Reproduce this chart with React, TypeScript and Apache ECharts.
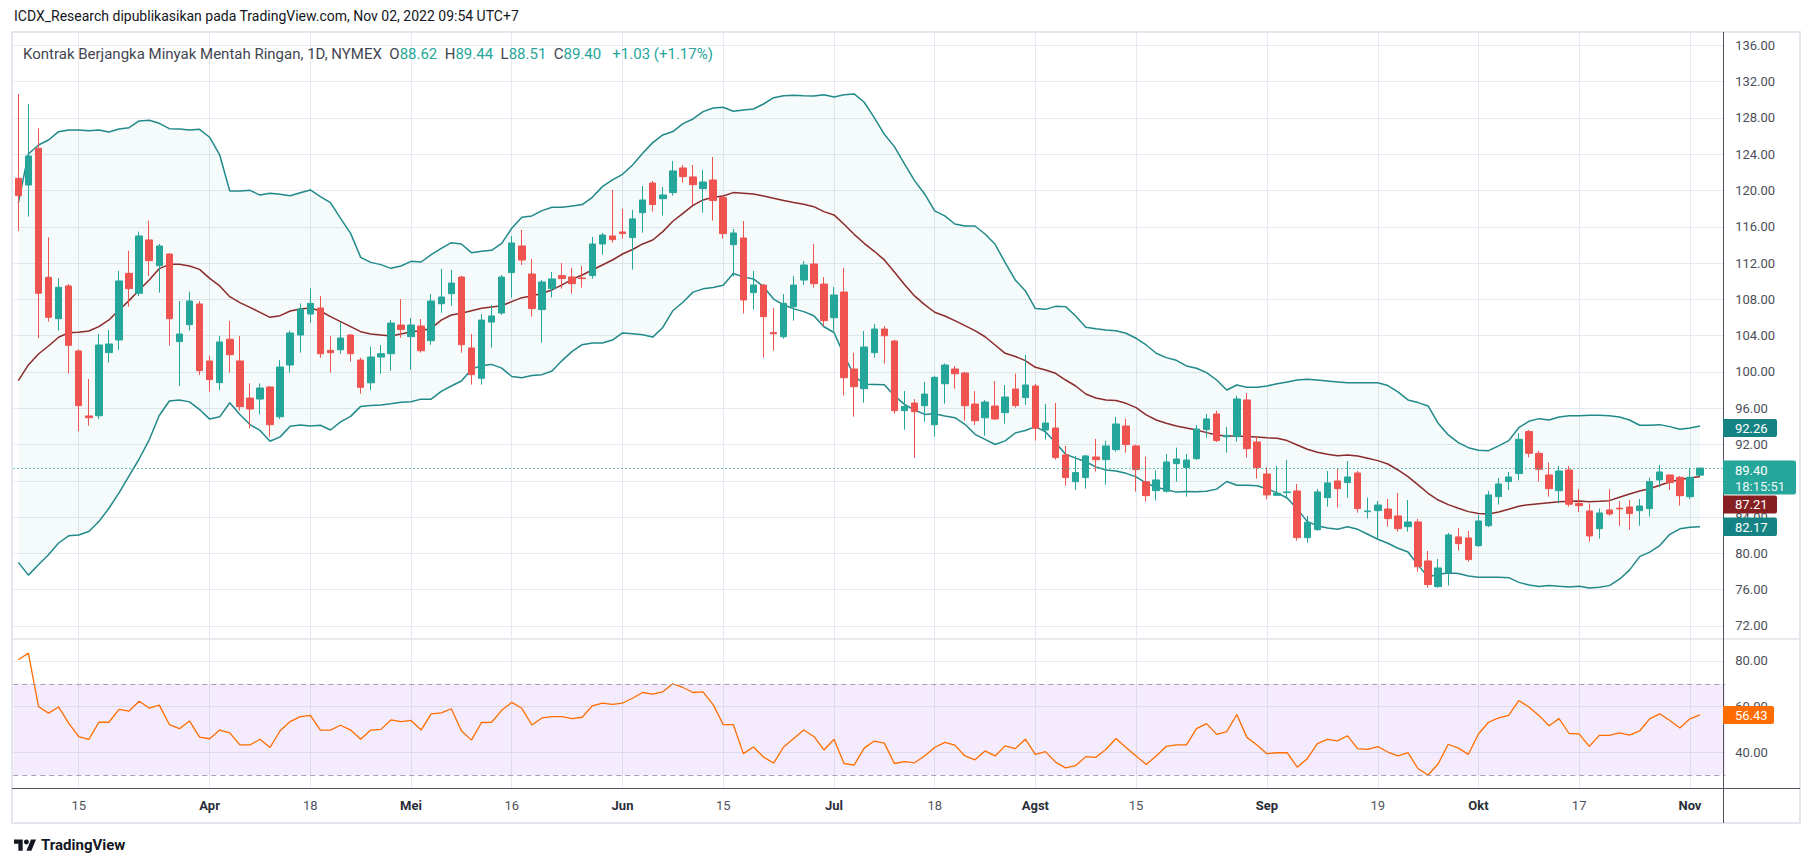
import React, { useEffect, useRef } from 'react';
import * as echarts from 'echarts';

// ---------- calendar / categories ----------
const FIRST_DAY = '2022-03-07';
const HOLIDAYS = ['2022-04-15', '2022-05-30', '2022-06-20', '2022-07-04', '2022-09-05'];
const CATEGORY_COUNT = 170; // 168 sessions + 2 empty future sessions on the right

const TICK_INDEX = [6, 19, 29, 39, 49, 60, 70, 81, 91, 101, 111, 124, 135, 145, 155, 166];
const TICK_TEXT = ['15', 'Apr', '18', 'Mei', '16', 'Jun', '15', 'Jul', '18', 'Agst', '15', 'Sep', '19', 'Okt', '17', 'Nov'];
const MONTH_TICKS = ['Apr', 'Mei', 'Jun', 'Jul', 'Agst', 'Sep', 'Okt', 'Nov'];

// ---------- price data (OHLC) ----------
const OPEN = [121.35,120.61,124.65,110.43,105.87,109.48,102.31,95.15,95.17,102.13,
103.52,110.87,108.67,114.55,111.72,113.00,103.34,105.21,107.49,101.21,
98.82,103.60,101.21,97.12,97.01,98.34,95.06,100.76,104.07,106.39,
107.05,102.38,102.45,104.07,101.31,98.80,101.64,102.01,105.17,103.89,
105.06,103.45,107.52,108.63,110.46,102.64,99.30,105.50,106.50,110.95,
113.89,110.80,106.87,109.18,110.62,110.47,110.36,110.62,114.11,114.99,
115.43,114.81,117.56,120.83,119.10,119.77,122.49,121.50,120.21,121.16,
119.22,114.03,114.77,108.74,109.58,104.35,103.88,107.19,110.13,111.90,
109.69,105.98,108.81,100.32,98.15,102.12,104.73,103.41,95.73,96.57,
96.28,94.18,98.70,100.32,99.88,96.46,94.95,96.24,95.51,98.12,
97.17,98.45,93.60,93.82,90.85,87.90,88.35,90.62,90.33,91.43,
94.04,91.84,87.90,86.91,86.84,89.89,89.45,90.44,93.64,95.37,
92.85,92.87,96.91,92.28,88.75,86.40,86.70,86.88,81.73,82.61,
86.14,87.98,87.80,88.86,84.60,84.71,84.89,84.12,82.94,83.46,
79.16,76.33,77.87,81.81,81.70,80.85,83.05,86.25,87.91,88.79,
93.42,91.03,88.64,86.91,89.19,85.52,84.67,82.72,84.78,84.98,
85.11,84.71,84.93,88.09,88.64,88.38,86.25,88.62];

const HIGH = [130.64,129.54,126.86,114.84,110.32,109.70,102.49,99.22,104.18,104.62,
111.13,113.37,115.47,116.68,114.11,113.10,107.82,108.85,107.82,101.80,
103.96,105.62,103.96,98.74,98.74,98.45,101.31,104.55,107.56,109.22,
108.37,103.96,105.43,104.18,101.57,102.78,102.97,105.72,108.04,105.94,
105.83,108.59,111.35,111.24,110.60,104.18,106.39,107.38,110.69,114.99,
115.65,112.45,110.14,111.02,112.01,111.46,111.68,114.88,115.32,120.06,
117.97,117.86,120.50,121.05,120.39,123.26,122.82,122.82,122.27,123.70,
119.51,115.76,116.64,111.13,109.70,107.05,108.59,110.57,112.23,114.10,
110.46,109.36,111.46,102.12,104.51,105.28,105.06,103.52,97.89,97.01,
98.92,99.58,100.94,100.65,100.03,97.89,96.90,99.00,98.56,99.81,
101.87,98.67,96.47,96.58,91.84,90.74,90.85,92.61,92.43,95.04,
94.82,91.99,90.66,89.12,90.96,91.65,90.96,94.15,95.37,95.73,
93.93,97.39,97.68,92.87,89.49,89.63,90.29,87.65,84.12,87.10,
89.08,89.30,90.18,89.08,86.14,85.77,85.99,86.66,85.88,83.79,
80.26,79.38,82.25,82.80,82.47,84.23,86.88,88.31,88.97,93.23,
93.60,91.29,90.00,89.63,89.63,87.06,85.48,84.93,87.06,85.77,
85.88,85.99,88.35,89.74,88.70,88.53,89.45,89.44];

const LOW = [115.54,117.12,103.71,105.54,104.55,99.85,93.48,94.07,94.81,101.02,
102.42,107.20,108.37,110.58,108.74,102.90,98.45,104.55,99.66,97.82,
98.00,99.92,95.73,93.78,95.32,92.86,94.81,99.92,102.12,105.43,
101.57,99.92,102.01,101.13,97.60,98.00,99.81,100.14,103.77,100.25,
102.12,103.00,106.53,107.30,102.12,98.60,98.60,102.67,106.31,108.19,
111.79,106.10,103.23,108.19,109.18,108.63,109.29,110.29,112.93,114.26,
114.70,111.28,115.36,117.67,117.23,119.44,120.87,118.41,117.56,116.68,
114.70,110.51,106.43,106.87,101.57,102.34,103.66,105.65,109.58,109.29,
105.06,104.55,97.38,95.06,96.61,101.57,100.91,95.40,93.63,90.54,
94.51,92.86,96.50,98.15,94.62,94.15,92.97,94.73,94.29,96.06,
96.36,92.43,92.54,90.33,87.46,87.02,87.13,89.01,87.57,91.21,
91.10,86.80,85.70,85.81,86.70,87.90,86.25,90.30,92.76,92.28,
91.10,92.32,90.55,88.24,85.96,86.30,86.00,81.40,81.18,82.50,
85.15,85.04,86.14,84.49,83.83,81.62,82.95,82.39,82.39,77.98,
76.22,76.20,76.44,80.30,79.09,80.70,82.90,85.37,86.99,88.05,
90.59,87.91,86.25,85.52,85.15,84.56,81.29,81.62,84.16,83.02,
82.61,83.05,84.05,87.28,86.99,85.26,85.96,88.51];

const CLOSE = [119.43,123.81,108.67,106.02,109.33,102.93,96.28,94.95,102.97,103.08,
110.03,109.18,114.99,112.27,113.89,105.87,104.18,107.82,100.14,99.15,
103.30,101.90,96.17,95.91,98.23,94.18,100.54,104.29,106.94,107.56,
102.01,102.12,103.74,102.01,98.30,101.64,102.01,105.39,104.66,105.17,
102.34,107.82,108.26,109.80,103.00,99.70,105.72,106.17,110.46,114.22,
112.34,106.98,109.92,110.25,110.29,109.73,110.29,114.11,115.10,114.59,
115.25,116.87,118.96,118.45,119.51,122.16,121.53,120.65,120.94,118.89,
115.25,115.32,107.93,109.59,106.09,104.20,107.56,109.58,111.79,109.73,
105.65,108.48,99.36,98.37,102.75,104.73,103.99,95.73,96.20,95.62,
97.56,99.40,100.76,99.80,96.28,94.62,96.68,94.81,97.23,96.29,
98.56,93.79,94.37,90.55,88.35,88.90,90.74,90.33,91.84,94.26,
91.99,89.23,86.36,88.09,90.07,90.40,90.29,93.71,94.82,92.43,
93.00,97.02,91.54,89.45,86.44,86.62,86.77,81.73,83.42,86.77,
87.76,87.13,88.42,84.93,84.67,85.33,83.83,82.72,83.46,78.53,
76.55,78.39,82.03,81.07,79.31,83.57,86.44,87.65,88.42,92.57,
91.03,89.27,87.13,89.08,85.41,85.26,81.92,84.45,84.34,84.90,
84.38,85.22,87.91,88.97,87.80,86.36,88.38,89.40];

// ---------- Bollinger bands ----------
const BB_UPPER = [118.60,124.03,125.02,125.57,126.49,126.67,126.67,126.60,126.67,126.45,
126.79,126.93,127.67,127.74,127.41,126.82,126.79,126.67,126.75,125.87,
123.92,119.95,119.95,120.02,119.50,119.69,119.58,119.43,119.76,120.06,
119.32,118.66,116.93,115.28,112.63,112.08,111.83,111.42,111.68,112.19,
112.12,112.93,113.63,114.25,114.10,113.15,113.30,113.41,114.18,115.84,
117.05,117.20,117.78,118.15,118.15,118.30,118.45,119.25,120.43,121.17,
121.79,122.82,124.10,125.28,126.13,126.50,127.38,127.89,128.70,129.10,
129.18,128.74,128.88,128.99,129.54,130.24,130.46,130.50,130.46,130.43,
130.57,130.32,130.57,130.65,129.73,128.04,126.20,124.84,122.93,121.09,
119.62,117.75,117.20,116.31,116.09,116.09,115.21,114.07,112.05,110.14,
108.96,106.98,106.90,107.23,107.20,106.17,104.92,104.75,104.63,104.55,
104.26,103.71,102.97,102.06,101.58,101.28,100.66,100.40,99.92,99.11,
98.01,98.56,98.31,98.31,98.45,98.70,98.90,99.10,99.20,99.10,
99.00,98.90,98.80,98.80,98.80,98.80,98.50,97.80,96.91,96.62,
96.25,94.34,93.05,92.21,91.65,91.36,91.32,91.84,92.43,93.85,
94.56,94.85,94.70,95.04,95.18,95.18,95.22,95.22,95.18,95.04,
94.70,94.12,94.12,94.19,93.97,93.68,93.82,94.04];

const BB_BASIS = [99.04,100.77,101.98,102.86,103.82,104.33,104.37,104.51,104.99,105.73,
106.83,107.86,109.03,110.14,111.39,111.86,111.86,111.68,111.31,110.32,
109.48,108.30,107.64,107.12,106.57,106.02,106.20,106.72,106.94,107.05,
106.72,106.09,105.54,104.99,104.44,104.18,104.07,103.96,104.18,104.44,
104.55,104.81,105.72,106.28,106.46,106.75,107.01,107.16,107.30,107.75,
108.19,108.37,108.67,109.04,109.59,110.21,110.69,111.24,111.79,112.34,
113.00,113.50,114.11,114.55,115.47,116.61,117.49,118.37,118.96,119.25,
119.40,119.77,119.70,119.62,119.40,119.14,118.89,118.67,118.48,118.22,
117.67,117.31,116.28,115.17,114.18,113.30,112.35,111.02,109.63,108.38,
107.42,106.58,106.17,105.66,105.11,104.55,103.88,102.97,102.05,101.70,
101.25,100.51,100.22,99.85,99.11,98.45,97.57,97.13,96.91,96.84,
96.54,96.06,95.26,94.70,94.34,94.04,93.82,93.60,93.31,93.05,
92.94,92.94,92.87,92.83,92.75,92.68,92.43,91.95,91.47,91.14,
90.92,90.77,90.85,90.74,90.48,90.22,89.85,89.19,88.46,87.54,
86.62,85.88,85.37,84.97,84.60,84.38,84.34,84.56,84.86,85.20,
85.37,85.48,85.59,85.70,85.74,85.77,85.70,85.74,85.81,86.18,
86.55,86.88,87.13,87.50,87.87,88.13,88.31,88.46];

const BB_LOWER = [79.00,77.60,78.75,79.85,81.14,81.93,82.03,82.40,83.50,84.97,
86.66,88.55,90.40,92.52,95.20,96.80,96.90,96.70,95.85,94.80,
95.05,96.60,95.30,94.20,93.55,92.36,92.84,94.02,94.15,94.05,
94.12,93.60,94.50,95.10,96.20,96.30,96.35,96.50,96.67,96.72,
97.00,97.00,97.85,98.45,99.00,100.28,100.72,100.83,100.42,99.50,
99.35,99.60,99.70,100.10,101.25,102.27,103.00,103.20,103.20,103.51,
104.30,104.22,104.10,103.84,104.90,106.75,107.68,108.80,109.16,109.32,
109.55,110.85,110.48,110.25,109.40,108.03,107.40,106.95,106.65,106.20,
104.98,104.35,101.85,99.58,98.65,98.62,98.58,97.38,96.43,95.80,
95.32,95.38,95.14,94.96,94.23,93.12,92.56,92.00,92.40,93.27,
93.54,93.97,93.40,92.20,90.93,90.50,90.10,89.53,89.19,89.07,
88.82,88.43,87.73,87.29,87.00,86.75,86.83,86.80,86.85,87.08,
87.92,87.50,87.52,87.45,87.12,86.66,86.10,84.90,83.50,83.05,
82.80,82.65,82.94,82.65,82.10,81.55,81.11,80.56,80.15,78.70,
77.40,77.70,77.82,77.78,77.50,77.36,77.36,77.35,77.32,76.80,
76.50,76.35,76.46,76.36,76.30,76.36,76.18,76.26,76.44,77.15,
78.15,79.64,80.14,80.86,82.10,82.70,82.87,82.92];

// ---------- RSI ----------
const RSI = [80.5,83.4,60.1,57.2,59.9,52.8,46.9,45.7,53.2,53.2,
58.8,58.1,62.4,59.4,60.7,52.2,50.4,53.8,46.7,46.0,
49.8,48.6,43.3,43.3,45.8,42.2,49.5,53.5,55.7,56.2,
49.8,49.8,51.9,49.8,45.8,49.8,50.1,54.2,53.5,54.0,
49.8,56.9,57.3,59.1,49.5,45.4,53.1,53.2,58.4,61.9,
59.3,52.0,55.1,55.7,55.7,54.8,55.4,60.4,61.6,61.0,
61.6,63.7,66.2,65.5,66.5,70.0,68.4,66.2,66.5,60.9,
52.2,52.2,39.5,42.4,38.0,35.4,42.4,46.1,49.8,47.0,
41.1,45.8,35.2,34.5,41.9,45.0,44.1,35.2,36.0,35.5,
38.5,42.2,44.4,43.2,38.5,36.8,40.7,38.5,42.9,41.7,
45.8,39.2,40.4,35.8,33.3,34.3,38.2,37.9,41.3,46.1,
42.2,38.5,34.8,38.5,42.7,43.3,43.3,50.4,52.6,47.9,
49.1,56.6,46.6,43.3,39.5,39.9,39.9,33.6,37.3,43.9,
45.7,45.1,47.3,41.7,41.4,42.6,40.2,38.5,39.9,32.9,
30.2,35.1,43.6,41.9,39.2,48.1,53.2,55.1,56.2,62.7,
59.9,56.2,51.7,54.8,48.3,48.1,42.7,47.5,47.5,48.6,
47.6,49.4,54.7,56.9,54.0,50.7,54.7,56.43];

// ---------- texts ----------
const HEADER_TEXT = 'ICDX_Research dipublikasikan pada TradingView.com, Nov 02, 2022 09:54 UTC+7';
const SYMBOL_NAME = 'Kontrak Berjangka Minyak Mentah Ringan, 1D, NYMEX';
const LEGEND_CHANGE = '+1.03 (+1.17%)';
const BB_LABEL_UPPER = '92.26';
const BB_LABEL_BASIS = '87.21';
const BB_LABEL_LOWER = '82.17';
const COUNTDOWN = '18:15:51';
const PRICE_TICKS = { min: 72, max: 136, step: 4 };
const PRICE_TICKS_HIDDEN = [88]; // fully covered by the last-price box in the reference
const RSI_TICKS = { min: 40, max: 80, step: 20 };

// ---------- styling ----------
const FONT = 'Roboto, "Noto Sans", sans-serif';
const UP = '#26a69a';
const DOWN = '#ef5350';
const BB_LINE = '#21898a';
const BB_BOX = '#158383';
const BB_MID = '#8c2b2b';
const BB_MID_BOX = '#861f22';
const RSI_COLOR = '#ff6d00';
const GRID_COLOR = '#e6eaf0';
const AXIS_TEXT = '#4c4f59';

// layout (pixels)
const GRID_LEFT = 13.27;
const GRID_RIGHT = 87.8;
const MAIN_TOP = 32;
const PANE_SPLIT = 639;
const PRICE_Y136 = 45.4;
const PRICE_Y72 = 625.9;
const RSI_BOTTOM = 788;
const RSI_Y80 = 660.9;
const RSI_Y40 = 752.5;

const TV_LOGO_PATH = 'M14 22H7V11H0V4h14v18zM28 22h-8l7.5-18h8L28 22z';
echarts.graphic.registerShape('tvlogo', echarts.graphic.extendPath(TV_LOGO_PATH, {}));

function tradingDays(start: string, count: number): string[] {
  const out: string[] = [];
  const d = new Date(start + 'T00:00:00Z');
  while (out.length < count) {
    const wd = d.getUTCDay();
    const iso = d.toISOString().slice(0, 10);
    if (wd !== 0 && wd !== 6 && HOLIDAYS.indexOf(iso) < 0) out.push(iso);
    d.setUTCDate(d.getUTCDate() + 1);
  }
  return out;
}

function buildOption() {
  const dates = tradingDays(FIRST_DAY, CATEGORY_COUNT);
  const candles = OPEN.map((o, i) => [o, CLOSE[i], LOW[i], HIGH[i]]);
  const bandWidth = BB_UPPER.map((u, i) => +(u - BB_LOWER[i]).toFixed(3));
  const last = OPEN.length - 1;

  const rsiPx = (RSI_Y40 - RSI_Y80) / (RSI_TICKS.max - RSI_TICKS.min);
  const rsiFrameMax = RSI_TICKS.max + (RSI_Y80 - PANE_SPLIT) / rsiPx;
  const rsiFrameMin = RSI_TICKS.min - (RSI_BOTTOM - RSI_Y40) / rsiPx;

  const tickShow = (index: number) => TICK_INDEX.indexOf(index) >= 0;

  const gridTicks = (len: number) => ({
    show: true,
    interval: tickShow,
    alignWithLabel: true,
    inside: true,
    length: len,
    lineStyle: { color: GRID_COLOR, width: 1 },
  });

  const hiddenCat = (gridIndex: number) => ({
    type: 'category', gridIndex, data: dates, boundaryGap: true, show: false,
  });

  const priceLabel = {
    fontSize: 13, fontFamily: FONT, color: AXIS_TEXT, margin: 10,
    formatter: (v: number) => (PRICE_TICKS_HIDDEN.indexOf(v) >= 0 ? '' : v.toFixed(2)),
  };
  const rsiLabel = {
    fontSize: 13, fontFamily: FONT, color: AXIS_TEXT, margin: 10,
    formatter: (v: number) => v.toFixed(2),
  };

  const box = (y: number, h: number, w: number, fill: string) => ({
    type: 'rect', z: 200, silent: true,
    shape: { x: 1723, y, width: w, height: h, r: [0, 2, 2, 0] },
    style: { fill },
  });
  const boxText = (y: number, text: string, fill = '#ffffff') => ({
    type: 'text', z: 201, silent: true, x: 1735, y,
    style: { text, fill, fontSize: 13, fontFamily: FONT, verticalAlign: 'middle', textVerticalAlign: 'middle', align: 'left' },
  });

  const legendRich = `{n|${SYMBOL_NAME}}  {n|O}{v|${OPEN[last].toFixed(2)}}  {n|H}{v|${HIGH[last].toFixed(2)}}  {n|L}{v|${LOW[last].toFixed(2)}}  {n|C}{v|${CLOSE[last].toFixed(2)}}   {v|${LEGEND_CHANGE}}`;

  return {
    animation: false,
    backgroundColor: '#ffffff',
    textStyle: { fontFamily: FONT },
    grid: [
      { left: GRID_LEFT, right: GRID_RIGHT, top: MAIN_TOP, height: PANE_SPLIT - MAIN_TOP },
      { left: GRID_LEFT, right: GRID_RIGHT, top: PRICE_Y136, height: PRICE_Y72 - PRICE_Y136 },
      { left: GRID_LEFT, right: GRID_RIGHT, top: PANE_SPLIT, height: RSI_BOTTOM - PANE_SPLIT },
      { left: GRID_LEFT, right: GRID_RIGHT, top: RSI_Y80, height: RSI_Y40 - RSI_Y80 },
    ],
    xAxis: [
      {
        type: 'category', gridIndex: 0, data: dates, boundaryGap: true, position: 'bottom',
        axisLine: { show: false }, axisLabel: { show: false }, splitLine: { show: false },
        axisTick: gridTicks(PANE_SPLIT - MAIN_TOP),
      },
      hiddenCat(1),
      {
        type: 'category', gridIndex: 2, data: dates, boundaryGap: true, position: 'bottom',
        axisLine: { show: false }, splitLine: { show: false },
        axisTick: gridTicks(RSI_BOTTOM - PANE_SPLIT),
        axisLabel: {
          show: true,
          interval: tickShow,
          margin: 11,
          formatter: (_v: string, index: number) => {
            const k = TICK_INDEX.indexOf(index);
            if (k < 0) return '';
            const t = TICK_TEXT[k];
            return MONTH_TICKS.indexOf(t) >= 0 ? `{m|${t}}` : `{d|${t}}`;
          },
          rich: {
            m: { fontSize: 13, fontFamily: FONT, fontWeight: 'bold', color: '#2a2e39' },
            d: { fontSize: 13, fontFamily: FONT, color: '#50535e' },
          },
        },
      },
      hiddenCat(3),
    ],
    yAxis: [
      { type: 'value', gridIndex: 0, min: 0, max: 1, show: false },
      {
        type: 'value', gridIndex: 1, position: 'right',
        min: PRICE_TICKS.min, max: PRICE_TICKS.max, interval: PRICE_TICKS.step,
        axisLine: { show: false }, axisTick: { show: false },
        axisLabel: priceLabel,
        splitLine: { show: true, lineStyle: { color: GRID_COLOR, width: 1 } },
      },
      { type: 'value', gridIndex: 2, min: rsiFrameMin, max: rsiFrameMax, show: false },
      {
        type: 'value', gridIndex: 3, position: 'right',
        min: RSI_TICKS.min, max: RSI_TICKS.max, interval: RSI_TICKS.step,
        axisLine: { show: false }, axisTick: { show: false },
        axisLabel: rsiLabel,
        splitLine: { show: true, lineStyle: { color: GRID_COLOR, width: 1 } },
      },
    ],
    series: [
      {
        name: 'bbBase', type: 'line', xAxisIndex: 1, yAxisIndex: 1, data: BB_LOWER,
        stack: 'bb', symbol: 'none', silent: true, z: 1,
        lineStyle: { opacity: 0 },
      },
      {
        name: 'bbFill', type: 'line', xAxisIndex: 1, yAxisIndex: 1, data: bandWidth,
        stack: 'bb', symbol: 'none', silent: true, z: 1,
        lineStyle: { opacity: 0 },
        areaStyle: { color: 'rgba(33,150,150,0.06)' },
      },
      {
        name: 'Upper', type: 'line', xAxisIndex: 1, yAxisIndex: 1, data: BB_UPPER,
        symbol: 'none', silent: true, z: 2,
        lineStyle: { color: BB_LINE, width: 1.5 },
      },
      {
        name: 'Basis', type: 'line', xAxisIndex: 1, yAxisIndex: 1, data: BB_BASIS,
        symbol: 'none', silent: true, z: 2,
        lineStyle: { color: BB_MID, width: 1.5 },
      },
      {
        name: 'Lower', type: 'line', xAxisIndex: 1, yAxisIndex: 1, data: BB_LOWER,
        symbol: 'none', silent: true, z: 2,
        lineStyle: { color: BB_LINE, width: 1.5 },
      },
      {
        name: 'CL', type: 'candlestick', xAxisIndex: 1, yAxisIndex: 1, data: candles,
        barWidth: 7, z: 3, silent: true,
        itemStyle: { color: UP, color0: DOWN, borderColor: UP, borderColor0: DOWN, borderWidth: 1 },
        markLine: {
          silent: true, symbol: ['none', 'none'], label: { show: false },
          lineStyle: { type: [1.3, 2.7], color: UP, width: 1.2 },
          data: [{ yAxis: CLOSE[last] }],
        },
      },
      {
        name: 'RSI', type: 'line', xAxisIndex: 2, yAxisIndex: 2, data: RSI,
        symbol: 'none', silent: true, z: 3,
        lineStyle: { color: RSI_COLOR, width: 1.3 },
        markArea: {
          silent: true,
          itemStyle: { color: 'rgba(155,80,230,0.11)' },
          data: [[{ yAxis: 70 }, { yAxis: 30 }]],
        },
        markLine: {
          silent: true, symbol: ['none', 'none'], label: { show: false },
          lineStyle: { type: [5, 4], color: '#a6a3b0', width: 1 },
          data: [{ yAxis: 70 }, { yAxis: 30 }],
        },
      },
    ],
    graphic: [
      // chart frame & separators
      { type: 'rect', z: 150, silent: true, shape: { x: 12, y: 32, width: 1788, height: 791 }, style: { fill: 'none', stroke: '#e3e6ec', lineWidth: 2 } },
      { type: 'line', z: 150, silent: true, shape: { x1: 12, y1: PANE_SPLIT, x2: 1800, y2: PANE_SPLIT }, style: { stroke: '#e0e3eb', lineWidth: 1.5 } },
      { type: 'line', z: 150, silent: true, shape: { x1: 12, y1: RSI_BOTTOM + 0.5, x2: 1800, y2: RSI_BOTTOM + 0.5 }, style: { stroke: '#50535e', lineWidth: 1 } },
      { type: 'line', z: 150, silent: true, shape: { x1: 1723.5, y1: 32, x2: 1723.5, y2: 823 }, style: { stroke: '#50535e', lineWidth: 1 } },
      // header & legend
      {
        type: 'text', z: 150, silent: true, x: 14, y: 16,
        style: { text: HEADER_TEXT, fill: '#131722', fontSize: 14, fontFamily: FONT, verticalAlign: 'middle', textVerticalAlign: 'middle' },
      },
      {
        type: 'text', z: 150, silent: true, x: 23, y: 54,
        style: {
          text: legendRich, fontSize: 15, fontFamily: FONT, fill: '#434651',
          verticalAlign: 'middle', textVerticalAlign: 'middle',
          rich: {
            n: { fontSize: 15, fontFamily: FONT, fill: '#434651', color: '#434651' },
            v: { fontSize: 15, fontFamily: FONT, fill: UP, color: UP },
          },
        },
      },
      // price scale value boxes
      box(419, 18, 54, BB_BOX), boxText(428, BB_LABEL_UPPER),
      box(460.5, 34, 73, UP), boxText(470, CLOSE[last].toFixed(2)), boxText(486, COUNTDOWN, '#e8f6f4'),
      box(495.5, 18, 54, BB_MID_BOX), boxText(504.5, BB_LABEL_BASIS),
      box(517.5, 18.5, 54, BB_BOX), boxText(527, BB_LABEL_LOWER),
      box(706, 18, 51, RSI_COLOR), boxText(715, RSI[last].toFixed(2)),
      // TradingView logo
      { type: 'tvlogo', z: 150, silent: true, x: 14, y: 837, scaleX: 0.62, scaleY: 0.62, style: { fill: '#131722' } },
      { type: 'circle', z: 150, silent: true, shape: { cx: 14 + 20 * 0.62, cy: 837 + 8 * 0.62, r: 4 * 0.62 }, style: { fill: '#131722' } },
      {
        type: 'text', z: 150, silent: true, x: 41, y: 845,
        style: { text: 'TradingView', fill: '#131722', fontSize: 15, fontWeight: 'bold', fontFamily: FONT, verticalAlign: 'middle', textVerticalAlign: 'middle' },
      },
    ],
  };
}

export default function App() {
  const ref = useRef<HTMLDivElement>(null);
  useEffect(() => {
    if (!ref.current) return;
    const chart = echarts.init(ref.current, undefined, { renderer: 'svg' });
    chart.setOption(buildOption() as any);
    return () => {
      chart.dispose();
    };
  }, []);
  return (
    <div
      ref={ref}
      style={{ position: 'fixed', left: 0, top: 0, width: 1813, height: 866, background: '#ffffff' }}
    />
  );
}
